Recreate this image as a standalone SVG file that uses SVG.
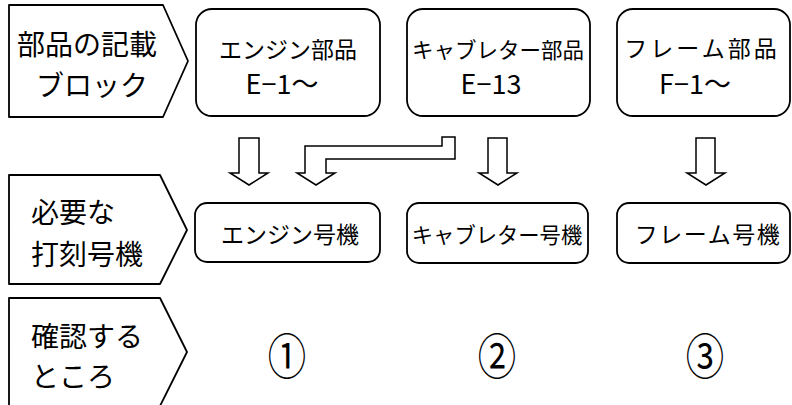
<svg xmlns="http://www.w3.org/2000/svg" width="792" height="405" viewBox="0 0 792 405">
<style>
.shape{fill:#fff;stroke:#000;stroke-width:1.8;stroke-linejoin:round}
.arr{fill:#fff;stroke:#000;stroke-width:1.5;stroke-linejoin:miter}
.t{font-family:"Noto Sans CJK JP","Noto Sans",sans-serif;fill:#000;dominant-baseline:central}
.lab{font-size:28px}
.nd{font-size:22px;text-anchor:middle}
.code{font-size:27px;text-anchor:middle}
.num{font-size:48px;text-anchor:middle}
</style>
<rect width="792" height="405" fill="#fff"/>
<g id="label-row1">
<polygon class="shape" points="9,5 163,5 188,61 163,117 9,117"/>
<text class="t lab" x="17" y="43">部品の記載</text>
<text class="t lab" x="36" y="84">ブロック</text>
</g>
<g id="label-row2">
<polygon class="shape" points="9,175 160,175 187,230 160,284 9,284"/>
<text class="t lab" x="31" y="211">必要な</text>
<text class="t lab" x="31" y="253">打刻号機</text>
</g>
<g id="label-row3">
<polygon class="shape" points="9,298 160,298 187,352 160,406 9,406"/>
<text class="t lab" x="31" y="335">確認する</text>
<text class="t lab" x="31" y="375">ところ</text>
</g>
<g id="engine-parts">
<rect class="shape" x="196" y="9" width="184" height="107" rx="16"/>
<text class="t nd" x="288" y="48" style="font-size:23px">エンジン部品</text>
<text class="t code" x="282" y="82">E−1〜</text>
</g>
<g id="carb-parts">
<rect class="shape" x="407" y="9" width="183" height="107" rx="16"/>
<text class="t nd" x="498" y="48" style="font-size:21.5px">キャブレター部品</text>
<text class="t code" x="491" y="82">E−13</text>
</g>
<g id="frame-parts">
<rect class="shape" x="617" y="9" width="173" height="107" rx="16"/>
<text class="t nd" x="702" y="47" style="font-size:23px;letter-spacing:3px">フレーム部品</text>
<text class="t code" x="695" y="82">F−1〜</text>
</g>
<g id="engine-no">
<rect class="shape" x="195" y="203" width="185" height="59" rx="12"/>
<text class="t nd" x="290" y="233" style="font-size:23px">エンジン号機</text>
</g>
<g id="carb-no">
<rect class="shape" x="407" y="203" width="181" height="60" rx="12"/>
<text class="t nd" x="497" y="233" style="font-size:21.3px">キャブレター号機</text>
</g>
<g id="frame-no">
<rect class="shape" x="617" y="203" width="173" height="60" rx="12"/>
<text class="t nd" x="708" y="233" style="font-size:23px;letter-spacing:1.5px">フレーム号機</text>
</g>
<g id="check1"><text class="t num" transform="translate(287,354) scale(0.8,1)" x="0" y="0">①</text></g>
<g id="check2"><text class="t num" transform="translate(497,354) scale(0.8,1)" x="0" y="0">②</text></g>
<g id="check3"><text class="t num" transform="translate(705,354) scale(0.8,1)" x="0" y="0">③</text></g>
<g id="connectors">
<path class="arr" d="M239,138 H259 V173 H268 L249,185 L230,173 H239 Z"/>
<path class="arr" d="M305,146 H442 V137 H455 V159 H326 V173 H335 L316,185 L297,173 H305 Z"/>
<path class="arr" d="M488,138 H507 V173 H517 L498,185 L479,173 H488 Z"/>
<path class="arr" d="M696,138 H715 V173 H725 L706,185 L687,173 H696 Z"/>
</g>
</svg>
